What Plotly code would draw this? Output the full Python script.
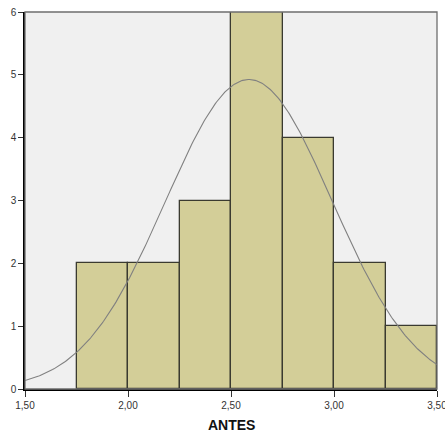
import numpy as np
import plotly.graph_objects as go

# Histogram data (bin edges, counts)
bin_left = [1.75, 2.00, 2.25, 2.50, 2.75, 3.00, 3.25]
counts = [2, 2, 3, 6, 4, 2, 1]
bin_width = 0.25
x_ticks = [1.5, 2.0, 2.5, 3.0, 3.5]
x_tick_labels = ["1,50", "2,00", "2,50", "3,00", "3,50"]
y_ticks = [0, 1, 2, 3, 4, 5, 6]
x_title = "ANTES"

# Normal curve summary stats
N = sum(counts)
MEAN = 2.587
SD = 0.405

centers = [b + bin_width / 2 for b in bin_left]

xs = np.linspace(1.5, 3.5, 300)
ys = N * bin_width / (SD * np.sqrt(2 * np.pi)) * np.exp(-((xs - MEAN) ** 2) / (2 * SD ** 2))

fig = go.Figure()
fig.add_trace(go.Bar(
    x=centers, y=counts, width=bin_width,
    marker=dict(color="#D3CE98", line=dict(color="#3a3a30", width=1.3)),
    showlegend=False, hoverinfo="skip",
))
fig.add_trace(go.Scatter(
    x=xs, y=ys, mode="lines",
    line=dict(color="#808080", width=1.1),
    showlegend=False, hoverinfo="skip",
))

fig.add_shape(type="rect", xref="paper", yref="paper", x0=0, x1=1, y0=0, y1=1,
              line=dict(color="#6e6e6e", width=1.3), layer="above")

fig.add_annotation(
    text="<b>" + x_title + "</b>", xref="paper", yref="paper", x=0.5, y=0,
    yanchor="middle", yshift=-36, showarrow=False,
    font=dict(size=14, color="#111111", family="Liberation Sans, Arial, sans-serif"),
)

fig.update_layout(
    width=445, height=434,
    margin=dict(l=25, r=8, t=12, b=45),
    paper_bgcolor="white",
    plot_bgcolor="#F0F0F0",
    bargap=0,
    font=dict(family="Liberation Sans, Arial, sans-serif", size=10, color="#333333"),
)
fig.update_xaxes(
    range=[1.5, 3.5], tickvals=x_ticks, ticktext=x_tick_labels,
    showgrid=False, zeroline=False, automargin=False,
    showline=True, linecolor="black", linewidth=1.5,
    ticks="outside", ticklen=6, tickcolor="#333333", tickwidth=1,
    tickfont=dict(size=10, color="#333333"),
    ticklabeloverflow="allow",
)
fig.update_yaxes(
    range=[0, 6], tickvals=y_ticks,
    showgrid=False, zeroline=False, automargin=False,
    showline=True, linecolor="black", linewidth=1.5,
    ticks="outside", ticklen=5, tickcolor="#333333", tickwidth=1,
    tickfont=dict(size=10, color="#333333"),
)

fig.write_html("out.html")
